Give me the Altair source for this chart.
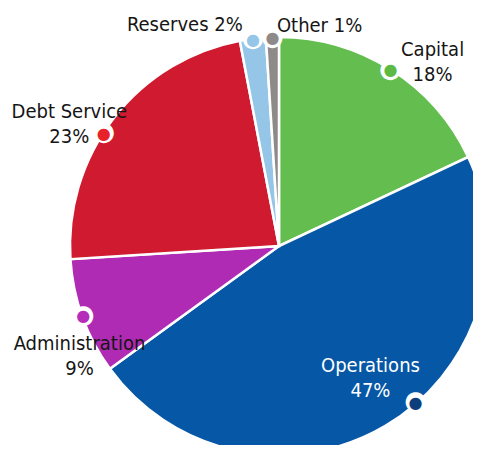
import altair as alt
import pandas as pd

categories = ["Capital", "Operations", "Administration", "Debt Service", "Reserves", "Other"]
values = [18, 47, 9, 23, 2, 1]
labels = ["Capital\n18%", "Operations\n47%", "Administration\n9%", "Debt Service\n23%", "Reserves 2%", "Other 1%"]
slice_colors = ["#63BE4F", "#0657A6", "#B02BB3", "#D01A2F", "#95C6E7", "#8E8A8A"]
marker_colors = ["#5DBB45", "#0D3E7C", "#B52DB8", "#E82229", "#95C6E7", "#8E8A8A"]

# styling: marker angle shift (percent units), label radius / offsets / alignment / colour
marker_shift = {"Capital": 0, "Operations": -2.9, "Administration": 0, "Debt Service": -1.45, "Reserves": 0, "Other": 0}
label_style = {
    "Capital": dict(radius=240, dx=25, dy=7, align="center", color="#151515"),
    "Operations": dict(radius=160, dx=10, dy=-18, align="center", color="#ffffff"),
    "Administration": dict(radius=228, dx=15, dy=20.5, align="center", color="#151515"),
    "Debt Service": dict(radius=240, dx=-20, dy=13, align="center", color="#151515"),
    "Reserves": dict(radius=225, dx=-8, dy=2, align="right", color="#151515"),
    "Other": dict(radius=225, dx=5, dy=5, align="left", color="#151515"),
}

cum = []
s = 0
for v in values:
    cum.append(s + v / 2)
    s += v
df = pd.DataFrame({
    "cat": categories,
    "value": values,
    "idx": list(range(len(categories))),
    "mid": cum,
    "label": labels,
})
df["marker_theta"] = [m + marker_shift[c] for m, c in zip(df["mid"], df["cat"])]

CX, CY = 271, 238
R = 209
tscale = alt.Scale(domain=[0, 100])
FONT = "Liberation Sans Narrow, DejaVu Sans Condensed, Roboto, sans-serif"

base = alt.Chart(df)

pie = base.mark_arc(radius=R, stroke="white", strokeWidth=2.5).encode(
    theta=alt.Theta("value:Q", stack=True, scale=tscale),
    color=alt.Color("cat:N", scale=alt.Scale(domain=categories, range=slice_colors), legend=None),
    order=alt.Order("idx:Q"),
    x=alt.value(CX),
    y=alt.value(CY),
)

marker_outer = base.mark_text(radius=R - 1, text="●", font="DejaVu Sans", fontSize=26, dy=-1.5,
                              fill="white", baseline="middle", align="center").encode(
    theta=alt.Theta("marker_theta:Q", stack=False, scale=tscale),
    x=alt.value(CX), y=alt.value(CY),
)
marker_inner = base.mark_text(radius=R - 1, text="●", font="DejaVu Sans", fontSize=16, dy=0,
                              baseline="middle", align="center").encode(
    theta=alt.Theta("marker_theta:Q", stack=False, scale=tscale),
    color=alt.Color("cat:N", scale=alt.Scale(domain=categories, range=marker_colors), legend=None),
    x=alt.value(CX), y=alt.value(CY),
)

label_layers = []
for c in categories:
    st = label_style[c]
    label_layers.append(
        base.transform_filter(alt.datum.cat == c).mark_text(
            radius=st["radius"], dx=st["dx"], dy=st["dy"], align=st["align"],
            baseline="middle", font=FONT, fontSize=20, lineHeight=25, lineBreak="\n",
            fill=st["color"],
        ).encode(
            theta=alt.Theta("mid:Q", stack=False, scale=tscale),
            text="label:N",
            x=alt.value(CX), y=alt.value(CY),
        )
    )

chart = alt.layer(pie, marker_outer, marker_inner, *label_layers).properties(
    width=465, height=437, padding=0, autosize="none"
).configure_view(stroke=None).resolve_scale(color="independent")

chart.save("out.html", embed_options={"renderer": "svg", "actions": False})
